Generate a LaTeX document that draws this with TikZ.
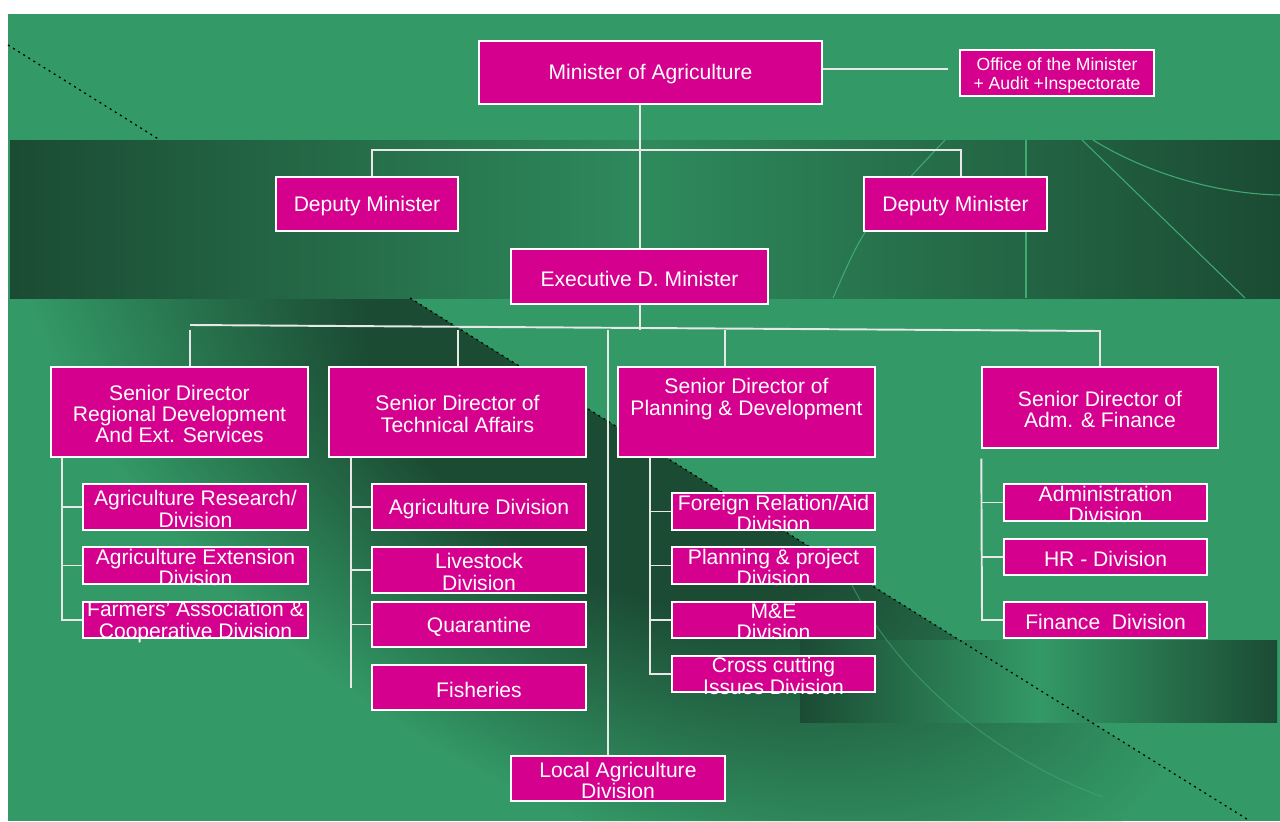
\documentclass[tikz,border=0pt]{standalone}
\usepackage{fontspec}
\setmainfont{Liberation Sans}
\usetikzlibrary{fit}

\definecolor{bggreen}{RGB}{51,153,102}
\definecolor{bgdark}{RGB}{27,75,51}
\definecolor{bandmid}{RGB}{46,138,92}
\definecolor{boxpink}{RGB}{214,0,143}
\definecolor{linegray}{RGB}{232,232,232}
\definecolor{arcgreen}{RGB}{64,170,115}

\pgfdeclareradialshading{shadowball}{\pgfpoint{0bp}{0bp}}{color(0bp)=(bgdark); color(10bp)=(bgdark); color(25bp)=(bggreen); color(50bp)=(bggreen)}

\begin{document}
\begin{tikzpicture}[x=0.02cm, y=-0.02cm,
  unit/.style={draw=white, line width=0.8pt, fill=boxpink, inner sep=0pt},
  txt/.style={text=white, align=center, yshift=-0.04cm, font=\fontsize{12}{12.2}\selectfont},
  small/.style={text=white, align=center, yshift=-0.04cm, font=\fontsize{10}{10.8}\selectfont},
  link/.style={draw=linegray, line width=1.1pt}]

% page and background
\useasboundingbox[fill=white] (0,0) rectangle (1280,821);
\fill[bggreen] (8,14) rectangle (1280,821);

% shadow under the diagonal
\begin{scope}
\clip (8,298) -- (410,298) -- (1250,821) -- (8,821) -- cycle;
\begin{scope}[transform canvas={shift={(605,420)}, rotate=-32, xscale=1.8}]
\shade[shading=shadowball] (0,0) circle (368);
\end{scope}
\end{scope}

% bands
\shade[left color=bgdark, right color=bgdark, middle color=bandmid] (10,140) rectangle (1280,298);
\draw[arcgreen, line width=0.6pt] (833,298) .. controls (865,225) .. (945,140);
\draw[arcgreen, line width=0.6pt] (1026,140) -- (1026,298);
\draw[arcgreen, line width=0.6pt] (1082,140) -- (1245,298);
\draw[arcgreen, line width=0.6pt] (1093,140) .. controls (1150,175) and (1220,194) .. (1280,195);
\shade[left color=bgdark, right color=bgdark, middle color=bggreen] (800,640) rectangle (1277,722);
\draw[arcgreen, line width=0.6pt, opacity=0.6] (852,585) .. controls (900,680) and (1000,760) .. (1103,797);
\draw[black, line width=0.7pt, dash pattern=on 0.04cm off 0.08cm] (8,45) -- (160,140) (410,298) -- (1250,821);

% top
\node[unit, fit={(479,41) (822,104)}, label={[txt]center:Minister of Agriculture}] (min) {};
\node[unit, fit={(960,50) (1154,96)}, label={[small]center:{Office of the Minister\\+ Audit +Inspectorate}}] (office) {};
\node[unit, fit={(276,177) (458,231)}, label={[txt]center:Deputy Minister}] (dep1) {};
\node[unit, fit={(864,177) (1047,231)}, label={[txt]center:Deputy Minister}] (dep2) {};
\node[unit, fit={(511,249) (768,304)}, label={[txt]center:Executive D. Minister}] (exec) {};

% senior directors
\node[unit, fit={(51,367) (308,457)}, label={[txt]center:{Senior Director\\Regional Development\\And Ext. Services}}] (sd1) {};
\node[unit, fit={(329,367) (586,457)}, label={[txt]center:{Senior Director of\\Technical Affairs}}] (sd2) {};
\node[unit, fit={(618,367) (875,457)}, label={[txt, yshift=0.3cm]center:{Senior Director of\\Planning \& Development}}] (sd3) {};
\node[unit, fit={(982,367) (1218,448)}, label={[txt]center:{Senior Director of\\Adm. \& Finance}}] (sd4) {};

% divisions
\node[unit, fit={(83,484) (308,530)}, label={[txt]center:{Agriculture Research/\\Division}}] (r1) {};
\node[unit, fit={(83,547) (308,584)}, label={[txt]center:{Agriculture Extension\\Division}}] (r2) {};
\node[unit, fit={(83,602) (308,638)}, label={[txt]center:{Farmers’ Association \&\\Cooperative Division}}] (r3) {};

\node[unit, fit={(372,484) (586,530)}, label={[txt]center:Agriculture Division}] (t1) {};
\node[unit, fit={(372,547) (586,593)}, label={[txt]center:{Livestock\\ Division}}] (t2) {};
\node[unit, fit={(372,602) (586,647)}, label={[txt]center:Quarantine}] (t3) {};
\node[unit, fit={(372,665) (586,710)}, label={[txt]center:Fisheries}] (t4) {};

\node[unit, fit={(672,493) (875,530)}, label={[txt]center:{Foreign Relation/Aid\\Division}}] (p1) {};
\node[unit, fit={(672,547) (875,584)}, label={[txt]center:{Planning \& project\\Division}}] (p2) {};
\node[unit, fit={(672,602) (875,638)}, label={[txt]center:{M\&E\\Division}}] (p3) {};
\node[unit, fit={(672,656) (875,692)}, label={[txt]center:{Cross cutting\\Issues Division}}] (p4) {};

\node[unit, fit={(1004,484) (1207,521)}, label={[txt]center:{Administration\\Division}}] (a1) {};
\node[unit, fit={(1004,539) (1207,575)}, label={[txt]center:HR - Division}] (a2) {};
\node[unit, fit={(1004,602) (1207,638)}, label={[txt]center:Finance\ \ Division}] (a3) {};

\node[unit, fit={(511,756) (725,801)}, label={[txt]center:{Local Agriculture\\Division}}] (loc) {};

% connectors
\coordinate (offend) at (948,69);
\coordinate (dl) at (372,150);
\coordinate (dr) at (961,150);
\coordinate (bus) at (640,330);
\draw[link] (min.east |- offend) -- (offend);
\draw[link] (min.south -| bus) -- (exec.north -| bus);
\draw[link] (exec.south -| bus) -- (bus);
\draw[link] (dl |- dep1.north) -- (dl) -- (dr) -- (dr |- dep2.north);
\draw[link] (190,325) -- (1100,331);
\foreach \n/\x in {sd1/190, sd2/458, sd3/725, sd4/1100}
  \draw[link] (\n.north -| \x,0) -- ++(0,-36);
\draw[link] (loc.north -| 608,0) -- ++(0,-425);

\draw[link] (sd1.south -| 62,0) -- (r3.west -| 62,0) -- (r3.west);
\foreach \n in {r1,r2}
  \draw[link] (\n.west -| 62,0) -- (\n.west);
\draw[link] (sd2.south -| 351,0) -- (t4.west -| 351,0);
\foreach \n in {t1,t2,t3}
  \draw[link] (\n.west -| 351,0) -- (\n.west);
\draw[link] (sd3.south -| 650,0) -- (p4.west -| 650,0) -- (p4.west);
\foreach \n in {p1,p2,p3}
  \draw[link] (\n.west -| 650,0) -- (\n.west);
\draw[link] ([yshift=-0.2cm]sd4.south west) -- (a3.west -| 982,0) -- (a3.west);
\foreach \n in {a1,a2}
  \draw[link] (\n.west -| 982,0) -- (\n.west);
\end{tikzpicture}
\end{document}
